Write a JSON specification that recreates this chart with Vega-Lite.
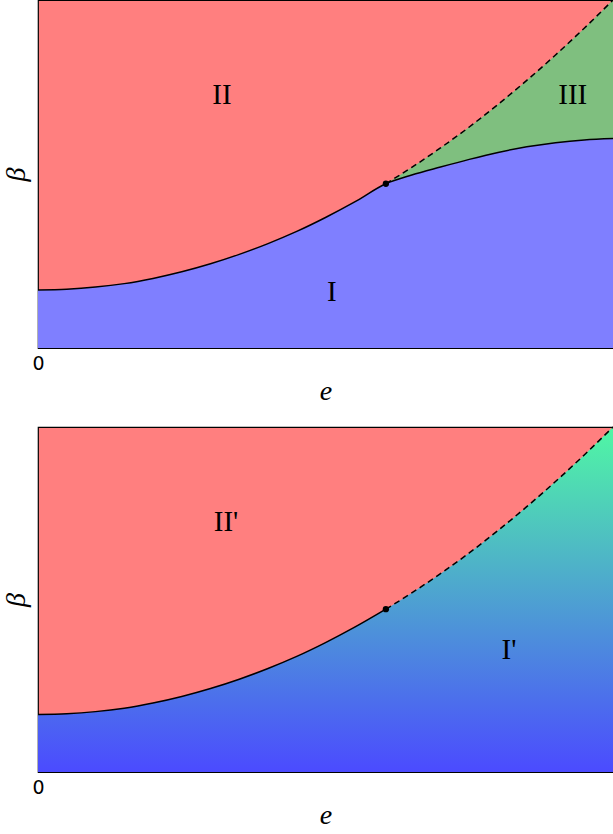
{
  "$schema": "https://vega.github.io/schema/vega-lite/v6.json",
  "padding": {"left": 1, "top": -4, "right": 0, "bottom": 0},
  "bounds": "flush",
  "spacing": 79,
  "datasets": {
    "curve": [
      {"x": 0.0, "par": 0.167, "low": 0.167},
      {"x": 0.05, "par": 0.169, "low": 0.169},
      {"x": 0.1, "par": 0.175, "low": 0.175},
      {"x": 0.15, "par": 0.185, "low": 0.185},
      {"x": 0.2, "par": 0.2, "low": 0.2},
      {"x": 0.25, "par": 0.219, "low": 0.219},
      {"x": 0.3, "par": 0.242, "low": 0.242},
      {"x": 0.35, "par": 0.269, "low": 0.269},
      {"x": 0.4, "par": 0.3, "low": 0.3},
      {"x": 0.45, "par": 0.335, "low": 0.335},
      {"x": 0.5, "par": 0.375, "low": 0.375},
      {"x": 0.55, "par": 0.419, "low": 0.419},
      {"x": 0.605, "par": 0.472, "low": 0.472},
      {"x": 0.65, "par": 0.519, "low": 0.497},
      {"x": 0.7, "par": 0.575, "low": 0.52},
      {"x": 0.75, "par": 0.635, "low": 0.542},
      {"x": 0.8, "par": 0.7, "low": 0.562},
      {"x": 0.85, "par": 0.769, "low": 0.578},
      {"x": 0.9, "par": 0.842, "low": 0.59},
      {"x": 0.95, "par": 0.919, "low": 0.598},
      {"x": 1.0, "par": 1.0, "low": 0.602}
    ],
    "junction": [{"x": 0.605, "y": 0.472}],
    "labelsTop": [
      {"label": "II", "x": 0.32, "y": 0.727},
      {"label": "III", "x": 0.93, "y": 0.727},
      {"label": "I", "x": 0.511, "y": 0.161}
    ],
    "labelsBottom": [
      {"label": "II'", "x": 0.327, "y": 0.725},
      {"label": "I'", "x": 0.819, "y": 0.354}
    ]
  },
  "config": {
    "view": {"fill": "#ff7f7f", "stroke": "#000000", "strokeWidth": 1.2},
    "axisX": {"domain": false, "ticks": false, "grid": false, "labelFlush": false, "labelFont": "DejaVu Sans", "labelFontSize": 19, "labelColor": "#000000", "labelPadding": 6, "titleFont": "Liberation Serif", "titleFontStyle": "italic", "titleFontWeight": "normal", "titleFontSize": 28, "titlePadding": 4, "titleColor": "#000000"},
    "axisY": {"domain": false, "ticks": false, "labels": false, "grid": false, "titleFont": "Liberation Serif", "titleFontStyle": "italic", "titleFontWeight": "normal", "titleFontSize": 28, "titlePadding": 8, "titleColor": "#000000"}
  },
  "vconcat": [
    {
      "width": 575,
      "height": 348,
      "layer": [
        {
          "data": {"name": "curve"},
          "transform": [{"filter": "datum.x >= 0.605"}],
          "mark": {"type": "area", "color": "#7fbf7f", "opacity": 1, "interpolate": "monotone"},
          "encoding": {
            "x": {"field": "x", "type": "quantitative", "scale": {"domain": [0, 1], "nice": false, "zero": false}, "axis": {"values": [0], "format": "d"}, "title": "e"},
            "y": {"field": "par", "type": "quantitative", "scale": {"domain": [0, 1], "nice": false}, "title": "β"},
            "y2": {"field": "low"}
          }
        },
        {
          "data": {"name": "curve"},
          "mark": {"type": "area", "color": "#7f7fff", "opacity": 1, "interpolate": "monotone"},
          "encoding": {
            "x": {"field": "x", "type": "quantitative", "title": "e"},
            "y": {"field": "low", "type": "quantitative", "title": "β"},
            "y2": {"datum": 0}
          }
        },
        {
          "data": {"name": "curve"},
          "mark": {"type": "line", "color": "#000000", "strokeWidth": 1.5, "interpolate": "monotone"},
          "encoding": {
            "x": {"field": "x", "type": "quantitative", "title": "e"},
            "y": {"field": "low", "type": "quantitative", "title": "β"}
          }
        },
        {
          "data": {"name": "curve"},
          "transform": [{"filter": "datum.x >= 0.605"}],
          "mark": {"type": "line", "color": "#000000", "strokeWidth": 1.5, "strokeDash": [6, 4], "interpolate": "monotone"},
          "encoding": {
            "x": {"field": "x", "type": "quantitative", "title": "e"},
            "y": {"field": "par", "type": "quantitative", "title": "β"}
          }
        },
        {
          "data": {"name": "junction"},
          "mark": {"type": "point", "filled": true, "color": "#000000", "size": 40, "opacity": 1},
          "encoding": {
            "x": {"field": "x", "type": "quantitative", "title": "e"},
            "y": {"field": "y", "type": "quantitative", "title": "β"}
          }
        },
        {
          "data": {"name": "labelsTop"},
          "mark": {"type": "text", "font": "Liberation Serif", "fontSize": 29, "color": "#000000"},
          "encoding": {
            "x": {"field": "x", "type": "quantitative", "title": "e"},
            "y": {"field": "y", "type": "quantitative", "title": "β"},
            "text": {"field": "label"}
          }
        }
      ]
    },
    {
      "width": 575,
      "height": 345,
      "layer": [
        {
          "data": {"name": "curve"},
          "mark": {"type": "area", "opacity": 1, "interpolate": "monotone", "color": {"gradient": "linear", "x1": 0, "y1": 1, "x2": 0, "y2": 0, "stops": [{"offset": 0, "color": "#4b4bff"}, {"offset": 1, "color": "#50f7a4"}]}},
          "encoding": {
            "x": {"field": "x", "type": "quantitative", "scale": {"domain": [0, 1], "nice": false, "zero": false}, "axis": {"values": [0], "format": "d"}, "title": "e"},
            "y": {"field": "par", "type": "quantitative", "scale": {"domain": [0, 1], "nice": false}, "title": "β"},
            "y2": {"datum": 0}
          }
        },
        {
          "data": {"name": "curve"},
          "transform": [{"filter": "datum.x <= 0.605"}],
          "mark": {"type": "line", "color": "#000000", "strokeWidth": 1.5, "interpolate": "monotone"},
          "encoding": {
            "x": {"field": "x", "type": "quantitative", "title": "e"},
            "y": {"field": "par", "type": "quantitative", "title": "β"}
          }
        },
        {
          "data": {"name": "curve"},
          "transform": [{"filter": "datum.x >= 0.605"}],
          "mark": {"type": "line", "color": "#000000", "strokeWidth": 1.5, "strokeDash": [6, 4], "interpolate": "monotone"},
          "encoding": {
            "x": {"field": "x", "type": "quantitative", "title": "e"},
            "y": {"field": "par", "type": "quantitative", "title": "β"}
          }
        },
        {
          "data": {"name": "junction"},
          "mark": {"type": "point", "filled": true, "color": "#000000", "size": 40, "opacity": 1},
          "encoding": {
            "x": {"field": "x", "type": "quantitative", "title": "e"},
            "y": {"field": "y", "type": "quantitative", "title": "β"}
          }
        },
        {
          "data": {"name": "labelsBottom"},
          "mark": {"type": "text", "font": "Liberation Serif", "fontSize": 29, "color": "#000000"},
          "encoding": {
            "x": {"field": "x", "type": "quantitative", "title": "e"},
            "y": {"field": "y", "type": "quantitative", "title": "β"},
            "text": {"field": "label"}
          }
        }
      ]
    }
  ]
}
